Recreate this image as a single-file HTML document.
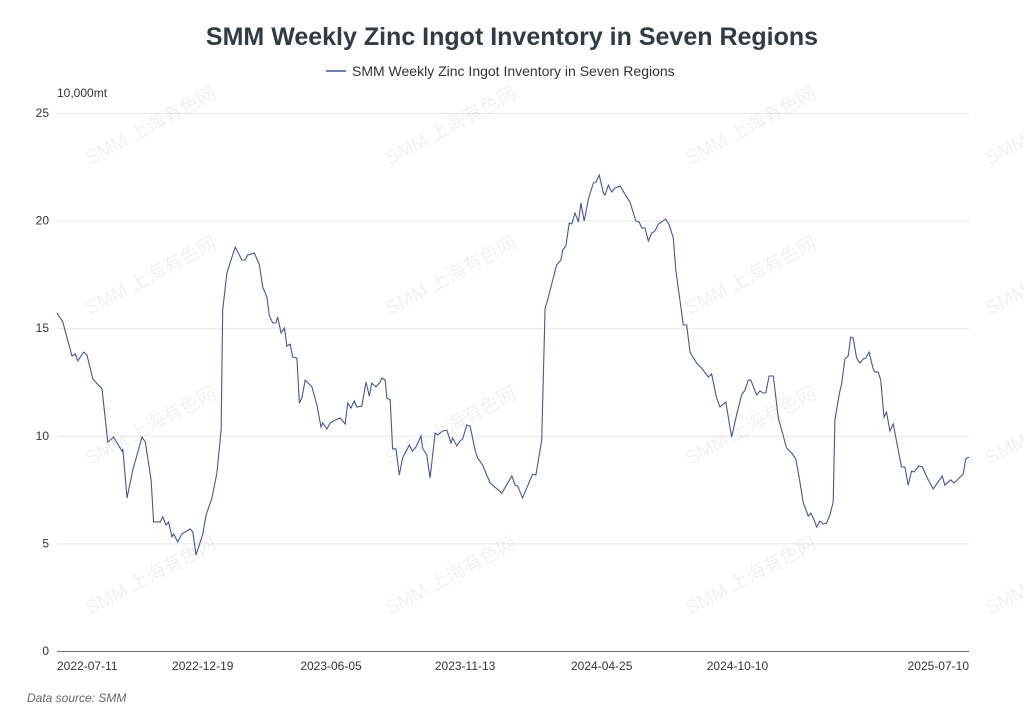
<!DOCTYPE html>
<html><head><meta charset="utf-8"><style>
body{margin:0;background:#fff;width:1024px;height:722px;overflow:hidden;font-family:"Liberation Sans","Noto Sans CJK SC",sans-serif}
</style></head><body>
<svg id="chart" width="1024" height="722" xmlns="http://www.w3.org/2000/svg" font-family="Liberation Sans, Noto Sans CJK SC, sans-serif">
<g id="wm"></g>
<text x="512" y="45" text-anchor="middle" font-size="25" font-weight="bold" fill="#333a44">SMM Weekly Zinc Ingot Inventory in Seven Regions</text>
<g>
<line x1="326" y1="71" x2="346" y2="71" stroke="#4a5596" stroke-width="1.5"/>
<text x="352" y="76" font-size="14" fill="#333">SMM Weekly Zinc Ingot Inventory in Seven Regions</text>
</g>
<text x="57" y="97" font-size="12" fill="#333">10,000mt</text>
<g id="grid"></g>
<g id="yt"></g>
<line x1="57" y1="651.5" x2="969" y2="651.5" stroke="#6e7079" stroke-width="1"/>
<g id="xt"></g>
<path id="line" fill="none" stroke="#4a5596" stroke-width="1.1"/>
<text x="27" y="702" font-size="12" font-style="italic" fill="#666">Data source:  SMM</text>
</svg>
<script>
const days=[0,7,18,22,25,32,36,43,54,61,68,78,79,84,91,102,106,113,116,124,127,131,134,138,140,145,150,160,163,167,175,179,186,192,197,199,204,214,222,226,229,237,243,247,252,255,259,263,265,269,273,276,280,283,288,291,294,298,306,312,317,319,324,328,334,340,346,349,353,357,360,366,371,375,378,383,388,390,394,396,400,403,407,411,415,423,427,431,437,439,444,448,454,457,463,468,473,475,480,484,487,492,496,502,505,511,520,534,546,550,553,559,571,575,582,586,589,594,600,605,607,611,615,618,622,626,629,633,638,644,647,651,656,658,662,666,670,676,684,688,695,699,702,706,710,714,718,722,731,735,740,743,752,756,760,768,774,782,786,792,796,803,810,816,822,826,830,833,840,844,848,851,855,860,866,876,882,887,891,896,902,905,909,912,916,920,924,928,932,934,939,942,946,950,953,956,960,964,968,971,975,980,982,986,989,993,996,1000,1004,1014,1018,1022,1026,1029,1035,1039,1046,1052,1063,1066,1073,1077,1088,1091,1095];
const values=[15.71,15.29,13.71,13.8,13.48,13.89,13.75,12.64,12.18,9.71,9.94,9.29,9.39,7.11,8.41,9.94,9.71,7.95,6.0,6.0,6.23,5.85,6.0,5.3,5.44,5.07,5.44,5.67,5.53,4.46,5.44,6.32,7.11,8.27,10.27,15.85,17.57,18.77,18.17,18.17,18.4,18.49,17.94,16.91,16.45,15.57,15.24,15.24,15.52,14.78,15.01,14.17,14.26,13.66,13.61,11.52,11.76,12.59,12.27,11.43,10.41,10.6,10.32,10.6,10.73,10.83,10.55,11.52,11.29,11.62,11.34,11.38,12.5,11.85,12.45,12.27,12.5,12.68,12.59,11.76,11.66,9.39,9.39,8.18,8.97,9.57,9.29,9.48,9.99,9.43,9.11,8.04,10.13,10.04,10.22,10.27,9.66,9.9,9.53,9.76,9.85,10.5,10.45,9.34,8.97,8.64,7.81,7.34,8.13,7.71,7.67,7.11,8.22,8.18,9.8,15.94,16.31,17.05,17.94,18.17,18.63,18.82,19.89,19.84,20.35,19.93,20.82,19.98,21.0,21.75,21.79,22.12,21.28,21.19,21.65,21.33,21.51,21.61,21.1,20.86,19.98,19.93,19.66,19.66,19.05,19.42,19.52,19.84,20.07,19.8,19.19,17.7,15.15,15.15,13.89,13.38,13.15,12.73,12.87,11.76,11.34,11.57,9.94,10.97,11.9,12.13,12.59,12.59,11.9,12.08,11.99,11.99,12.78,12.78,10.83,9.43,9.2,8.92,8.08,6.88,6.27,6.41,6.09,5.76,6.04,5.9,5.95,6.32,6.92,10.73,11.9,12.41,13.57,13.71,14.59,14.54,13.61,13.38,13.57,13.61,13.89,13.1,12.96,12.96,12.59,10.87,11.1,10.22,10.55,8.55,8.55,7.71,8.36,8.32,8.6,8.55,7.95,7.53,8.13,7.71,7.95,7.81,8.22,8.92,9.01];
const yTicks=[0,5,10,15,20,25];
const xLabels=["2022-07-11","2022-12-19","2023-06-05","2023-11-13","2024-04-25","2024-10-10","2025-07-10"];
const xLabelDays=[0,175,329,490,654,817,1095];

const X0=57,X1=969,Y0=651,Y1=113,DMAX=1095,VMAX=25;
function xs(d){return X0+(X1-X0)*d/DMAX;}
function ys(v){return Y0-(Y0-Y1)*v/VMAX;}
const NS="http://www.w3.org/2000/svg";
const grid=document.getElementById('grid'),yt=document.getElementById('yt'),xt=document.getElementById('xt');
yTicks.forEach(t=>{
  if(t>0){const l=document.createElementNS(NS,'line');
  
  
  l.setAttribute('x1',X0);l.setAttribute('x2',X1);l.setAttribute('y1',ys(t)+0.5);l.setAttribute('y2',ys(t)+0.5);
  l.setAttribute('stroke','#e6e6e6');grid.appendChild(l);}
  const tx=document.createElementNS(NS,'text');
  
  
  tx.setAttribute('x',49);tx.setAttribute('y',ys(t)+4);tx.setAttribute('text-anchor','end');
  tx.setAttribute('font-size','12');tx.setAttribute('fill','#333');tx.textContent=t;yt.appendChild(tx);
});
xLabels.forEach((s,i)=>{
  const tx=document.createElementNS(NS,'text');
  
  
  tx.setAttribute('x',xs(xLabelDays[i]));tx.setAttribute('y',670);
  tx.setAttribute('text-anchor',i==0?'start':(i==xLabels.length-1?'end':'middle'));
  tx.setAttribute('font-size','12');tx.setAttribute('fill','#333');tx.textContent=s;xt.appendChild(tx);
});
let d='';
days.forEach((dd,i)=>{d+=(i?'L':'M')+xs(dd).toFixed(1)+','+ys(values[i]).toFixed(1);});
document.getElementById('line').setAttribute('d',d);
const wm=document.getElementById('wm');
[165,315,465,615].forEach(y=>{[90,390,690,990].forEach(x=>{
  const t=document.createElementNS(NS,'text');
  
  
  t.setAttribute('x',x);t.setAttribute('y',y);t.setAttribute('font-size','19');t.setAttribute('fill','#f1f1f1');
  t.setAttribute('transform','rotate(-28 '+x+' '+y+')');t.textContent='SMM 上海有色网';wm.appendChild(t);
});});
</script>
</body></html>
